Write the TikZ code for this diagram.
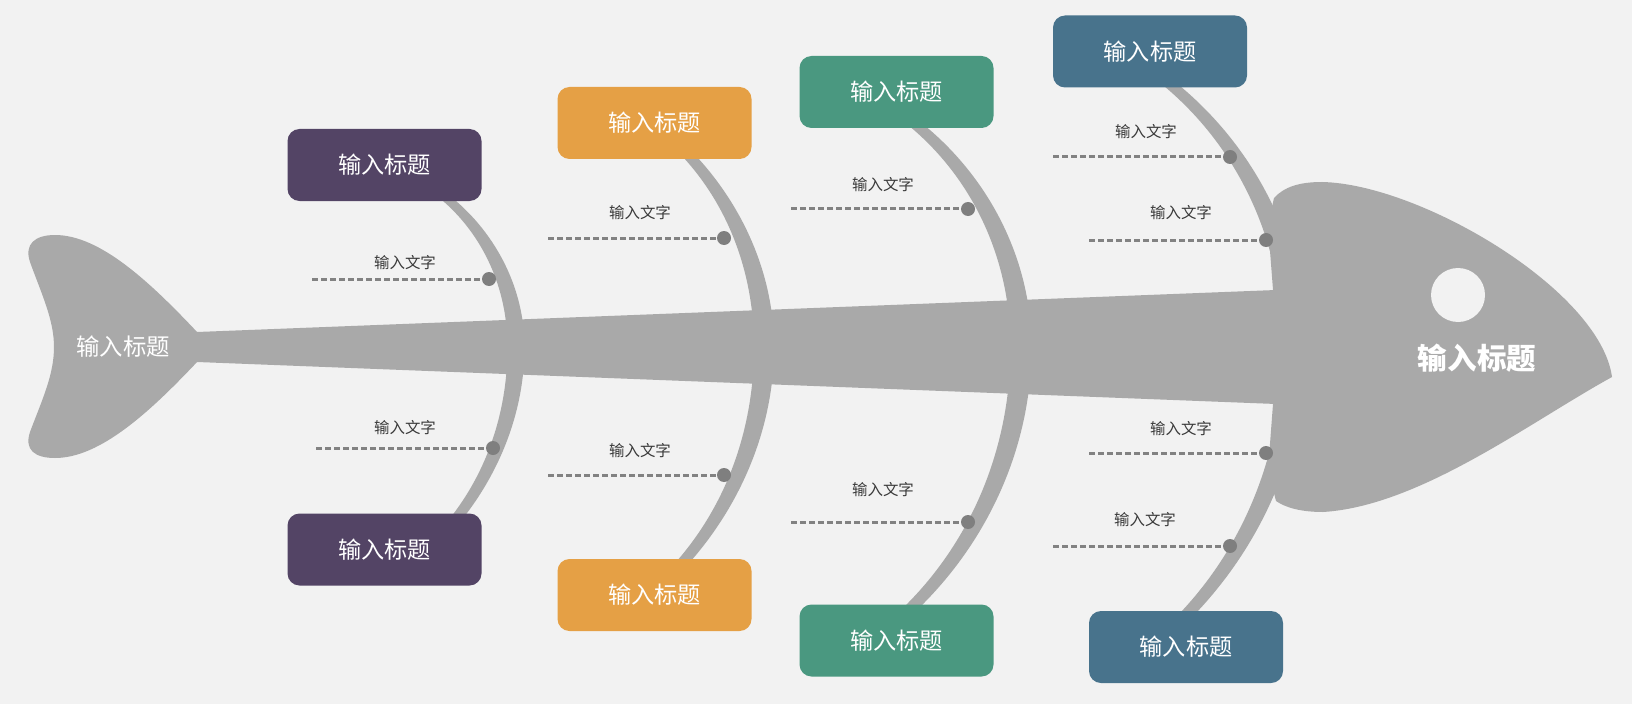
\documentclass[tikz,border=0pt]{standalone}
\usepackage{fontspec}
\setmainfont{Noto Sans CJK SC}
\usepackage{tikz}
\usetikzlibrary{positioning}
\definecolor{PaperBg}{HTML}{F2F2F2}
\definecolor{BoneGray}{HTML}{A9A9A9}
\definecolor{JointGray}{HTML}{7F7F7F}
\definecolor{DashGray}{HTML}{828282}
\definecolor{TextInk}{HTML}{3A3A3A}
\definecolor{CausePurple}{HTML}{534465}
\definecolor{CauseOrange}{HTML}{E5A045}
\definecolor{CauseGreen}{HTML}{4A9880}
\definecolor{CauseBlue}{HTML}{48738C}

\tikzset{
  causebox/.style={rounded corners=2.4mm, minimum width=38.8mm, minimum height=14.4mm,
    inner sep=0pt, text=white, font=\fontsize{13.2}{15}\selectfont},
  jointdot/.style={circle, fill=JointGray, minimum size=2.8mm, inner sep=0pt},
  subline/.style={DashGray, line width=0.6mm, dash pattern=on 1.2mm off 0.6mm},
  subtext/.style={text=TextInk, font=\fontsize{8.8}{10}\selectfont, inner sep=0pt},
}

\begin{document}
\begin{tikzpicture}[x=0.2mm, y=-0.2mm]
  \fill[PaperBg] (0,0) rectangle (1632,704);
  \useasboundingbox (0,0) rectangle (1632,704);

  % ribs: top end, its control, upper mid control, mid x, lower mid control, bottom control, bottom end, widths
  \foreach \tx/\ty/\ax/\ay/\uy/\mx/\ly/\cx/\cy/\bx/\by/\we/\wm in {
      446/198/490.3/234.7/289.4/516/407.7/495.9/466.8/459/515/6.5/8.5,
      690/157/737.6/208.9/276.6/764/426.1/735.2/502.6/683/562/7/10,
      916/125/982.4/179.5/261.1/1021/444.8/981.7/538.4/912/607/8/10.5,
      1172/86/1249.3/150.7/246.2/1294/445.9/1256/541.2/1188/613/8/11}{
    \fill[BoneGray] ({\tx+\we},\ty) .. controls ({\ax+\we},\ay) and ({\mx+\wm},\uy) .. ({\mx+\wm},347)
      .. controls ({\mx+\wm},\ly) and ({\cx+\we},\cy) .. ({\bx+\we},\by)
      -- ({\bx-\we},\by) .. controls ({\cx-\we},\cy) and ({\mx-\wm},\ly) .. ({\mx-\wm},347)
      .. controls ({\mx-\wm},\uy) and ({\ax-\we},\ay) .. ({\tx-\we},\ty) -- cycle;
  }

  % spine, tail and head
  \fill[BoneGray] (197,332) -- (1276,290) -- (1276,404) -- (197,362) -- cycle;
  \fill[BoneGray] (198,333) .. controls (150,282) and (100,235) .. (55,235)
    .. controls (35,235) and (24,244) .. (30,262)
    .. controls (42,295) and (54,320) .. (54,347)
    .. controls (54,375) and (42,400) .. (30,432)
    .. controls (24,450) and (35,458) .. (55,458)
    .. controls (100,458) and (150,412) .. (198,361) -- cycle;
  \fill[BoneGray] (1274,198) .. controls (1284,187) and (1299,182) .. (1322,182)
    .. controls (1420,184) and (1600,290) .. (1612,377)
    .. controls (1530,422) and (1420,506) .. (1323,512)
    .. controls (1302,512) and (1286,508) .. (1276,501)
    -- (1268,470) -- (1273,404) -- (1273,290) -- (1268,225) -- cycle;
  \fill[PaperBg] (1458,295) circle[radius=27];

  \node[text=white, font=\fontsize{13.3}{15}\selectfont, inner sep=0pt] (tailtitle) at (123,347) {输入标题};
  \node[text=white, font=\bfseries\fontsize{16.8}{19}\selectfont, inner sep=0pt] (headtitle) at (1477,358) {输入标题};

  % sub causes
  \foreach \nm/\sx/\ex/\yy/\lx/\lyy in {pa/312/489/279/405/263, pb/316/493/448/405/428,
      oa/548/724/238/640/213, ob/548/724/475/640/451, ga/791/968/209/883/185, gb/791/968/522/883/490,
      ba/1053/1230/157/1146/132, bb/1089/1266/240/1181/213, bc/1089/1266/453/1181/429, bd/1053/1230/546/1145/520}{
    \coordinate (\nm-s) at (\sx,\yy);
    \node[jointdot] (\nm-d) at (\ex,\yy) {};
    \draw[subline] (\nm-s) -- (\nm-d);
    \node[subtext] (\nm-t) at (\lx,\lyy) {输入文字};
  }

  % cause boxes
  \node[causebox, fill=CausePurple] (purpletop) at (384.5,165) {输入标题};
  \node[causebox, fill=CausePurple] (purplebot) at (384.5,549.5) {输入标题};
  \node[causebox, fill=CauseOrange] (orangetop) at (654.5,123) {输入标题};
  \node[causebox, fill=CauseOrange] (orangebot) at (654.5,595) {输入标题};
  \node[causebox, fill=CauseGreen] (greentop) at (896.5,92) {输入标题};
  \node[causebox, fill=CauseGreen] (greenbot) at (896.5,640.5) {输入标题};
  \node[causebox, fill=CauseBlue] (bluetop) at (1150,51.5) {输入标题};
  \node[causebox, fill=CauseBlue] (bluebot) at (1186,647) {输入标题};
\end{tikzpicture}
\end{document}
